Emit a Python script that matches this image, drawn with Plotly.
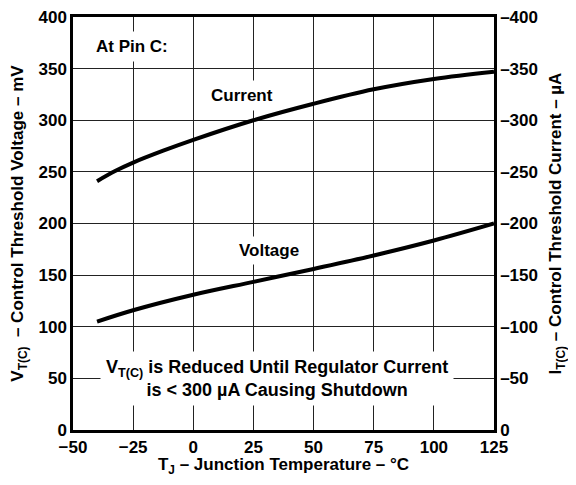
import plotly.graph_objects as go

# Data
temp_c = [-40, -32.5, -25, -12.5, 0, 25, 50, 75, 100, 125]
current_ua = [-241, -250.8, -259, -270.5, -281, -300, -316, -330, -340, -347]
temp_v = [-40, -25, 0, 25, 50, 75, 100, 125]
voltage_mv = [105, 116, 131, 143.5, 156, 169, 183.5, 200]

x_ticks = [-50, -25, 0, 25, 50, 75, 100, 125]
y_left_ticks = [0, 50, 100, 150, 200, 250, 300, 350, 400]
y_right_ticks = [0, -50, -100, -150, -200, -250, -300, -350, -400]
y_right_text = ["0", "–50", "–100", "–150", "–200", "–250", "–300", "–350", "–400"]

FONT = "Liberation Sans, Arial, sans-serif"

fig = go.Figure()
fig.add_trace(go.Scatter(x=temp_v, y=voltage_mv, mode="lines",
                         line=dict(color="black", width=4, shape="spline", smoothing=1),
                         showlegend=False, yaxis="y"))
fig.add_trace(go.Scatter(x=temp_c, y=current_ua, mode="lines",
                         line=dict(color="black", width=4, shape="spline", smoothing=1),
                         showlegend=False, yaxis="y2"))

ann_font = dict(family=FONT, size=17, color="black", weight="bold")
fig.add_annotation(x=-25.6, y=371, text="At Pin C:", showarrow=False, font=ann_font,
                   bgcolor="white", borderpad=5, xref="x", yref="y")
fig.add_annotation(x=20.2, y=324, text="Current", showarrow=False, font=ann_font,
                   bgcolor="white", borderpad=5, xref="x", yref="y")
fig.add_annotation(x=31.5, y=173.6, text="Voltage", showarrow=False, font=ann_font,
                   bgcolor="white", borderpad=4, xref="x", yref="y")
fig.add_annotation(x=35, y=50,
                   text="V<sub>T(C)</sub> is Reduced Until Regulator Current<br>is < 300 µA Causing Shutdown",
                   showarrow=False, font=dict(family=FONT, size=18, color="black", weight="bold"),
                   bgcolor="white", borderpad=5, xref="x", yref="y", align="center")

tick_font = dict(family=FONT, size=17, color="black", weight="bold")
title_font = dict(family=FONT, size=17, color="black", weight="bold")

# page body has an 8px margin, so the figure is sized to fit the window inside it
fig.update_layout(
    width=560, height=469,
    margin=dict(l=65, r=74, t=9, b=47),
    paper_bgcolor="white", plot_bgcolor="white",
    xaxis=dict(range=[-50, 125], tickvals=x_ticks, tickfont=tick_font, automargin=False,
               showgrid=True, gridcolor="#222", gridwidth=1,
               showline=True, linecolor="black", linewidth=2.5, mirror=True, zeroline=False,
               ticks="", ticklabeloverflow="allow",
               title=dict(text="T<sub>J</sub> – Junction Temperature – °C", font=title_font, standoff=12)),
    yaxis=dict(range=[0, 400], tickvals=y_left_ticks, tickfont=tick_font, automargin=False,
               showgrid=True, gridcolor="#222", gridwidth=1,
               showline=True, linecolor="black", linewidth=2.5, mirror=True, zeroline=False,
               ticks="", ticklabeloverflow="allow",
               title=dict(text="V<sub>T(C)</sub>  – Control Threshold Voltage – mV", font=title_font, standoff=12)),
    yaxis2=dict(range=[0, -400], tickvals=y_right_ticks, ticktext=y_right_text, tickfont=tick_font,
                overlaying="y", side="right", anchor="x", showgrid=False, zeroline=False, automargin=False,
                showline=True, linecolor="black", linewidth=2.5, ticks="", ticklabeloverflow="allow",
                title=dict(text="I<sub>T(C)</sub> – Control Threshold Current – µA", font=title_font, standoff=13)),
)

fig.write_html("out.html")
